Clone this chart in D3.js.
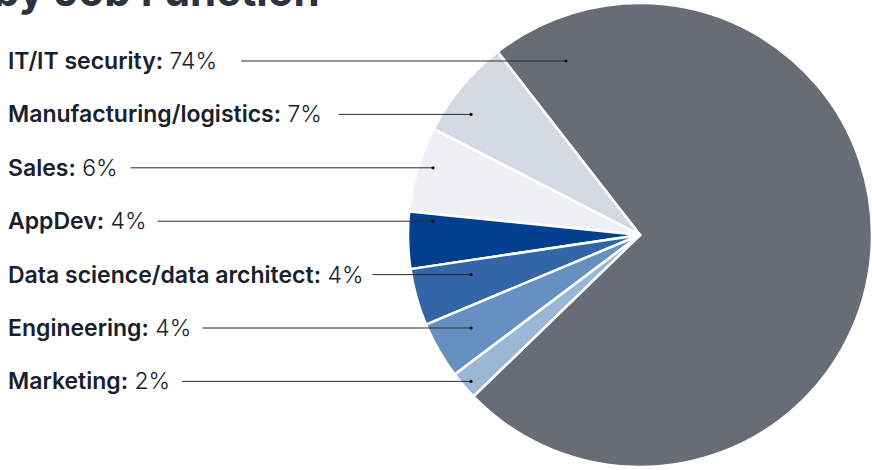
<!DOCTYPE html>
<html>
<head>
<meta charset="utf-8">
<script src="https://cdn.jsdelivr.net/npm/d3@7"></script>
<style>
  html, body { margin: 0; padding: 0; background: #ffffff; }
  svg { display: block; }
  text { font-family: Inter, "Open Sans", sans-serif; }
</style>
</head>
<body>
<svg id="chart" width="872" height="470"></svg>
<script>
// Share of respondents by job function (percent, as labelled)
const categories = [
  "IT/IT security",
  "Manufacturing/logistics",
  "Sales",
  "AppDev",
  "Data science/data architect",
  "Engineering",
  "Marketing"
];
const shares = [74, 7, 6, 4, 4, 4, 2];
const sliceColors = ["#676c76", "#d4dae4", "#edf0f5", "#00408f", "#3366a6", "#6690c0", "#9cb6d7"];

// Layout
const W = 872, H = 470;
const cx = 640, cy = 235, radius = 232;
const labelX = 8, labelTop = 61, labelStep = 53.4;
const dotX = [566, 471, 433, 433, 471, 471, 471];   // where each leader line ends
const lineGap = [24, 17, 13, 11, 9, 11, 12];

const svg = d3.select("#chart");

// Title (continues from the line above, cropped at the top edge)
svg.append("text")
  .attr("x", -7).attr("y", 6)
  .attr("font-size", 42).attr("font-weight", 700)
  .attr("fill", "#2d323d")
  .text("by Job Function");

const data = categories.map((c, i) => ({ name: c, value: shares[i], color: sliceColors[i] }));

// Slices run counter-clockwise in label order, with the big slice first
const start = 225.9 * Math.PI / 180;
const pie = d3.pie().sort(null).value(d => d.value)
  .startAngle(start).endAngle(start - 2 * Math.PI);
const arc = d3.arc().innerRadius(0).outerRadius(radius);

const g = svg.append("g").attr("transform", `translate(${cx},${cy})`);
g.selectAll("path").data(pie(data)).join("path")
  .attr("d", arc)
  .attr("fill", d => d.data.color)
  .attr("stroke", "#ffffff")
  .attr("stroke-width", 2.5)
  .attr("stroke-linejoin", "round");

// Labels with leader lines
const y = d3.scaleLinear().domain([0, 1]).range([labelTop, labelTop + labelStep]);

data.forEach((d, i) => {
  const yy = y(i);
  const t = svg.append("text")
    .attr("x", labelX).attr("y", yy)
    .attr("dy", "0.35em")
    .attr("font-size", 23)
    .attr("fill", "#18202e");
  t.append("tspan").attr("font-weight", 600).text(d.name + ":");
  t.append("tspan").attr("font-weight", 300).text(" " + d.value + "%");
  const end = labelX + t.node().getComputedTextLength() + lineGap[i];
  svg.append("line")
    .attr("x1", end).attr("x2", dotX[i])
    .attr("y1", yy).attr("y2", yy)
    .attr("stroke", "#2a2a2a").attr("stroke-width", 1);
  svg.append("circle")
    .attr("cx", dotX[i]).attr("cy", yy).attr("r", 1.6)
    .attr("fill", "#111111");
});
</script>
</body>
</html>
